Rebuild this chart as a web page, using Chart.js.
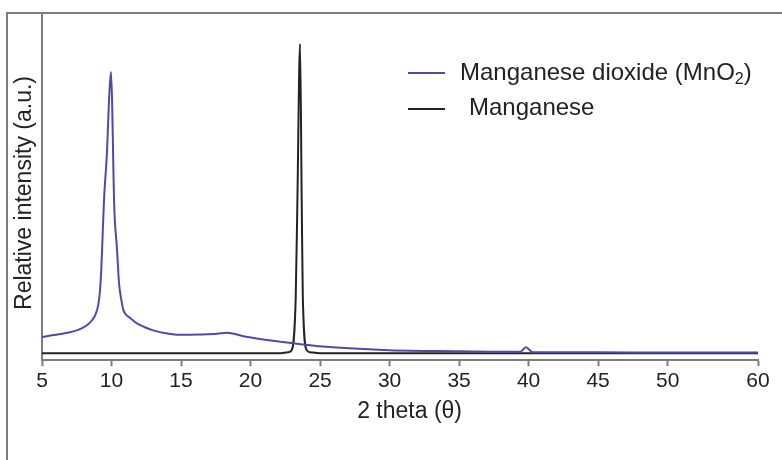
<!DOCTYPE html>
<html>
<head>
<meta charset="utf-8">
<script src="https://cdn.jsdelivr.net/npm/chart.js@4.4.1/dist/chart.umd.min.js"></script>
<style>
  html, body { margin: 0; padding: 0; background: #fff; }
  canvas { display: block; }
</style>
</head>
<body>
<canvas id="xrd" width="782" height="460"></canvas>
<script>
// 2 theta positions and relative intensity
const mno2Theta = [5, 6, 6.8, 7.5, 7.95, 8.3, 8.6, 8.85, 9.05, 9.17, 9.25, 9.32, 9.46, 9.68, 9.82, 9.96, 10.04, 10.11, 10.18, 10.4, 10.54, 10.7, 10.85, 11.0, 11.3, 11.8, 12.4, 13, 14, 14.9, 16.4, 17.6, 18.3, 18.8, 19.5, 21.2, 23.6, 25.9, 30, 35, 39.4, 39.8, 40.3, 45, 50, 56.5];
const mno2Values = [6.7, 7.3, 7.9, 8.6, 9.4, 10.3, 11.5, 13.2, 16, 20, 25, 31.7, 46.1, 60.5, 74.9, 83.0, 74.9, 60.5, 46.1, 31.7, 22.2, 17.5, 14.5, 13.3, 12.3, 10.7, 9.5, 8.6, 7.7, 7.3, 7.4, 7.6, 7.9, 7.6, 6.9, 5.8, 4.6, 3.7, 2.9, 2.6, 2.4, 3.7, 2.3, 2.3, 2.2, 2.2];

const mnTheta = [5, 15, 22, 22.7, 22.96, 23.25, 23.37, 23.56, 23.68, 23.76, 24.04, 24.28, 25, 35, 45, 56.5];
const mnValues = [2.0, 2.0, 2.0, 2.3, 2.9, 18.2, 46.0, 91.1, 46.0, 18.2, 2.9, 2.3, 2.0, 2.0, 2.0, 2.0];

// tick positions on the printed axis and their labels (the axis ends at the "60" mark)
const tickValues = [5, 10, 15, 20, 25, 30, 35, 40, 45, 50, 56.5];
const tickLabels = ['5', '10', '15', '20', '25', '30', '35', '40', '45', '50', '60'];

const seriesNames = ['Manganese dioxide (MnO', 'Manganese'];
const seriesColors = ['rgb(76,76,168)', 'rgb(35,35,35)'];

const toPoints = (xs, ys) => xs.map((x, i) => ({ x: x, y: ys[i] }));

const axisGray = 'rgb(125,125,125)';
const fontFamily = '"Liberation Sans", Arial, sans-serif';

// frame around the figure and the legend inside the plot
const framePlugin = {
  id: 'frame',
  beforeDraw(chart) {
    const ctx = chart.ctx;
    ctx.save();
    ctx.fillStyle = '#fff';
    ctx.fillRect(0, 0, chart.width, chart.height);
    ctx.strokeStyle = axisGray;
    ctx.lineWidth = 2;
    ctx.beginPath();
    ctx.moveTo(7, chart.height);
    ctx.lineTo(7, 13);
    ctx.lineTo(chart.width, 13);
    ctx.stroke();
    ctx.restore();
  },
  afterDraw(chart) {
    const ctx = chart.ctx;
    ctx.save();
    ctx.lineWidth = 2;
    ctx.textBaseline = 'middle';
    ctx.fillStyle = '#222';

    // first entry, with subscript 2
    ctx.strokeStyle = seriesColors[0];
    ctx.beginPath();
    ctx.moveTo(408, 73);
    ctx.lineTo(445, 73);
    ctx.stroke();
    ctx.font = '24px ' + fontFamily;
    ctx.fillText(seriesNames[0], 460, 73);
    let x = 460 + ctx.measureText(seriesNames[0]).width;
    ctx.font = '16px ' + fontFamily;
    ctx.fillText('2', x, 80);
    x += ctx.measureText('2').width;
    ctx.font = '24px ' + fontFamily;
    ctx.fillText(')', x, 73);

    // second entry
    ctx.strokeStyle = seriesColors[1];
    ctx.beginPath();
    ctx.moveTo(408, 109);
    ctx.lineTo(445, 109);
    ctx.stroke();
    ctx.fillText(seriesNames[1], 469, 108);
    ctx.restore();
  }
};

new Chart(document.getElementById('xrd'), {
  type: 'line',
  data: {
    datasets: [
      {
        label: 'Manganese dioxide (MnO2)',
        data: toPoints(mno2Theta, mno2Values),
        borderColor: seriesColors[0],
        borderWidth: 2,
        pointRadius: 0,
        cubicInterpolationMode: 'monotone',
        fill: false
      },
      {
        label: 'Manganese',
        data: toPoints(mnTheta, mnValues),
        borderColor: seriesColors[1],
        borderWidth: 2,
        pointRadius: 0,
        cubicInterpolationMode: 'monotone',
        fill: false
      }
    ]
  },
  options: {
    responsive: false,
    animation: false,
    layout: { padding: { top: 13, right: 24, bottom: 35, left: 0 } },
    plugins: {
      legend: { display: false },
      tooltip: { enabled: false }
    },
    scales: {
      x: {
        type: 'linear',
        min: 5,
        max: 56.5,
        afterBuildTicks: (scale) => {
          scale.ticks = tickValues.map(v => ({ value: v }));
        },
        ticks: {
          autoSkip: false,
          maxRotation: 0,
          padding: 2,
          color: '#222',
          font: { family: fontFamily, size: 21 },
          callback: (value) => tickLabels[tickValues.indexOf(value)]
        },
        grid: {
          drawOnChartArea: false,
          drawTicks: true,
          tickLength: 6,
          tickWidth: 2,
          tickColor: axisGray
        },
        border: { color: axisGray, width: 2 },
        title: {
          display: true,
          // leading spaces nudge the title right, as in the figure
          text: '   2 theta (θ)',
          color: '#222',
          padding: { top: 2, bottom: 0 },
          font: { family: fontFamily, size: 23 }
        }
      },
      y: {
        min: 0,
        max: 100,
        afterFit: (scale) => { scale.width = 42; },
        ticks: { display: false },
        grid: { display: false, drawTicks: false },
        border: { display: true, color: axisGray, width: 2 },
        title: {
          display: true,
          text: 'Relative intensity (a.u.)  ',
          color: '#222',
          padding: { top: 11, bottom: 0 },
          font: { family: fontFamily, size: 23 }
        }
      }
    }
  },
  plugins: [framePlugin]
});
</script>
</body>
</html>
